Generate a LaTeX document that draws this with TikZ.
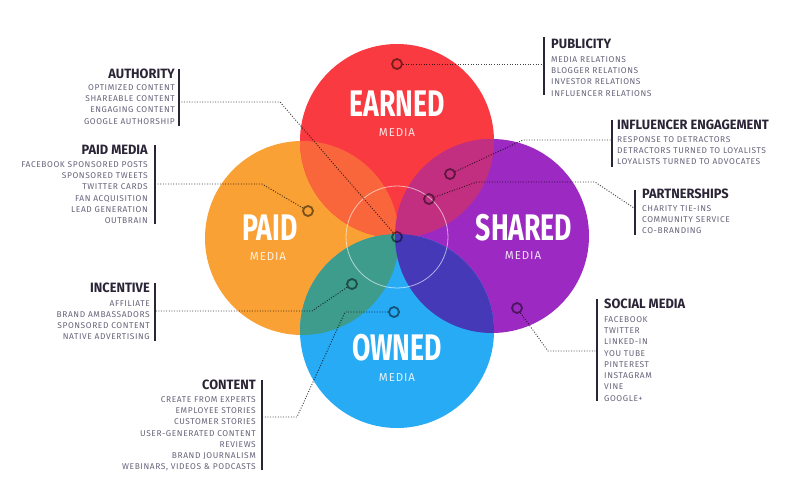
\documentclass[tikz,border=0pt]{standalone}
\usepackage{fontspec}
\setmainfont{Fira Sans}
\newfontfamily\bigfont[FakeStretch=0.72]{Fira Sans}
\newfontfamily\headfont[FakeStretch=0.95]{Fira Sans}
\newfontfamily\itemfont[LetterSpace=7]{Fira Sans}
\newfontfamily\mediafont[LetterSpace=8]{Fira Sans}
\usetikzlibrary{positioning}

\definecolor{earnedred}{HTML}{F93A40}
\definecolor{paidorange}{HTML}{F9A134}
\definecolor{sharedpurple}{HTML}{9C2AC2}
\definecolor{ownedblue}{HTML}{27ABF5}
\definecolor{earnpaid}{HTML}{F9663C}
\definecolor{earnshare}{HTML}{C22F80}
\definecolor{paidown}{HTML}{3E9C8C}
\definecolor{shareown}{HTML}{4639B8}
\definecolor{headcol}{HTML}{2A2436}
\definecolor{itemcol}{HTML}{67647A}

\tikzset{
  hub/.style={circle,draw=black,draw opacity=.5,line width=1.8pt,minimum size=10pt,inner sep=0pt},
  link/.style={dash pattern=on 1pt off 1.6pt,line width=.9pt,draw=black,draw opacity=.75},
  bar/.style={line width=1.6pt,draw=headcol},
  headtext/.style={font=\headfont\bfseries\fontsize{13.5}{13.5}\selectfont,text=headcol,inner sep=0pt},
  itemtext/.style={font=\itemfont\fontsize{8.4}{11.3}\selectfont,text=itemcol,inner sep=0pt},
  bigtext/.style={font=\bigfont\bfseries\fontsize{37}{37}\selectfont,text=white,inner sep=0pt},
  mediatext/.style={font=\mediafont\fontsize{11.5}{11.5}\selectfont,text=white,text opacity=.85,inner sep=0pt}
}

\begin{document}
\begin{tikzpicture}[x=1pt,y=-1pt]
\useasboundingbox (0,0) rectangle (800,499);

% the four media circles
\fill[paidorange] (302,238) circle (97);
\fill[earnedred] (397,141) circle (97);
\fill[sharedpurple] (492,236) circle (97);
\fill[ownedblue] (397,331) circle (97);

% overlaps
\begin{scope}
\clip (397,141) circle (97);
\fill[earnpaid] (302,238) circle (97);
\fill[earnshare] (492,236) circle (97);
\end{scope}
\begin{scope}
\clip (397,331) circle (97);
\fill[paidown] (302,238) circle (97);
\fill[shareown] (492,236) circle (97);
\end{scope}

% ring in the middle
\draw[white,line width=.8pt,opacity=.6] (397,237) circle (51);

% hubs
\node[hub] (hCenter) at (397,237) {};
\node[hub] (hPublicity) at (397,64) {};
\node[hub] (hPaid) at (308,211) {};
\node[hub] (hIncentive) at (352,284) {};
\node[hub] (hContent) at (394,312) {};
\node[hub] (hInfluencer) at (450,174) {};
\node[hub] (hPartner) at (429,199) {};
\node[hub] (hSocial) at (517,308) {};

% bars
\draw[bar] (179,69)--(179,126);
\draw[bar] (155,145)--(155,224);
\draw[bar] (155,283)--(155,341);
\draw[bar] (262,380)--(262,470);
\draw[bar] (544,37)--(544,95);
\draw[bar] (612,120)--(612,167);
\draw[bar] (635,190)--(635,235);
\draw[bar] (597,299)--(597,401);

% ends of the connectors
\coordinate (cAuthority) at (180,102);
\coordinate (kAuthority) at (280,102);
\coordinate (cPaid) at (156,184);
\coordinate (kPaid) at (262,184);
\coordinate (cIncentive) at (156,311);
\coordinate (kIncentive) at (312,311);
\coordinate (cContent) at (263,417);
\coordinate (kContentA) at (297,417);
\coordinate (kContentB) at (345,312);
\coordinate (cPublicity) at (543,64);
\coordinate (cInfluencer) at (611,140);
\coordinate (kInfluencer) at (523,140);
\coordinate (cPartner) at (634,208);
\coordinate (kPartnerA) at (477,182);
\coordinate (kPartnerB) at (595,182);
\coordinate (cSocial) at (596,351);
\coordinate (kSocial) at (548,351);

% connectors
\draw[link] (hCenter)--(kAuthority)--(cAuthority);
\draw[link] (hPaid)--(kPaid)--(cPaid);
\draw[link] (hIncentive)--(kIncentive)--(cIncentive);
\draw[link] (hContent)--(kContentB)--(kContentA)--(cContent);
\draw[link] (hPublicity)--(cPublicity);
\draw[link] (hInfluencer)--(kInfluencer)--(cInfluencer);
\draw[link] (hPartner)--(kPartnerA)--(kPartnerB)--(cPartner);
\draw[link] (hSocial)--(kSocial)--(cSocial);

% circle labels
\node[bigtext] (tEarned) at (397,104) {EARNED};
\node[mediatext] (mEarned) at (397,133) {MEDIA};
\node[bigtext] (tPaid) at (270,228) {PAID};
\node[mediatext] (mPaid) at (268,257) {MEDIA};
\node[bigtext] (tShared) at (524,228) {SHARED};
\node[mediatext] (mShared) at (523,256) {MEDIA};
\node[bigtext] (tOwned) at (397,348) {OWNED};
\node[mediatext] (mOwned) at (397,378) {MEDIA};

% left lists
\node[headtext,anchor=east] (authH) at (175,74) {AUTHORITY};
\node[itemtext,anchor=north east,align=right] (authL) at (175,84.1) {OPTIMIZED CONTENT\\SHAREABLE CONTENT\\ENGAGING CONTENT\\GOOGLE AUTHORSHIP};
\node[headtext,anchor=east] (paidH) at (148,150) {PAID MEDIA};
\node[itemtext,anchor=north east,align=right] (paidL) at (148,161.1) {FACEBOOK SPONSORED POSTS\\SPONSORED TWEETS\\TWITTER CARDS\\FAN ACQUISITION\\LEAD GENERATION\\OUTBRAIN};
\node[headtext,anchor=east] (incH) at (150,288) {INCENTIVE};
\node[itemtext,anchor=north east,align=right] (incL) at (150,300.1) {AFFILIATE\\BRAND AMBASSADORS\\SPONSORED CONTENT\\NATIVE ADVERTISING};
\node[headtext,anchor=east] (contH) at (256,385) {CONTENT};
\node[itemtext,anchor=north east,align=right] (contL) at (256,396.1) {CREATE FROM EXPERTS\\EMPLOYEE STORIES\\CUSTOMER STORIES\\USER-GENERATED CONTENT\\REVIEWS\\BRAND JOURNALISM\\WEBINARS, VIDEOS \& PODCASTS};

% right lists
\node[headtext,anchor=west] (pubH) at (551,44) {PUBLICITY};
\node[itemtext,anchor=north west,align=left] (pubL) at (551,56.1) {MEDIA RELATIONS\\BLOGGER RELATIONS\\INVESTOR RELATIONS\\INFLUENCER RELATIONS};
\node[headtext,anchor=west] (infH) at (617,125) {INFLUENCER ENGAGEMENT};
\node[itemtext,anchor=north west,align=left] (infL) at (617,136.1) {RESPONSE TO DETRACTORS\\DETRACTORS TURNED TO LOYALISTS\\LOYALISTS TURNED TO ADVOCATES};
\node[headtext,anchor=west] (partH) at (642,194) {PARTNERSHIPS};
\node[itemtext,anchor=north west,align=left] (partL) at (642,205.1) {CHARITY TIE-INS\\COMMUNITY SERVICE\\CO-BRANDING};
\node[headtext,anchor=west] (socH) at (604,304) {SOCIAL MEDIA};
\node[itemtext,anchor=north west,align=left] (socL) at (604,316.1) {FACEBOOK\\TWITTER\\LINKED-IN\\YOU TUBE\\PINTEREST\\INSTAGRAM\\VINE\\GOOGLE+};
\end{tikzpicture}
\end{document}
